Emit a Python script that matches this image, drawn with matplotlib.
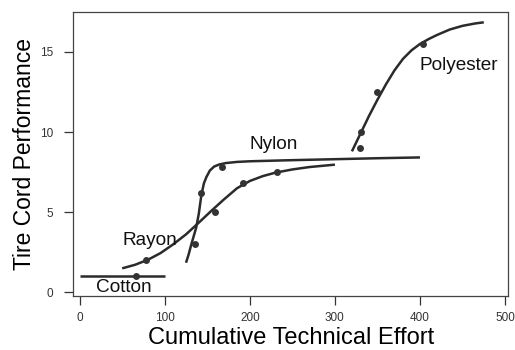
import matplotlib
matplotlib.use("Agg")
import matplotlib.pyplot as plt

plt.rcParams['font.family'] = ['Liberation Sans', 'DejaVu Sans']

# fitted curves
cotton_x = [0, 100]
cotton_y = [1.0, 1.0]
rayon_x = [50, 65, 80, 95, 110, 125, 140, 155, 170, 185, 200, 215, 230, 250, 270, 300]
rayon_y = [1.50, 1.72, 2.03, 2.45, 3.0, 3.62, 4.35, 5.1, 5.82, 6.5, 6.95, 7.25, 7.47, 7.67, 7.82, 7.97]
nylon_x = [125, 128, 131, 134, 137, 140, 143, 146, 149, 153, 158, 164, 172, 185, 200, 250, 300, 350, 400]
nylon_y = [1.85, 2.35, 2.95, 3.5, 4.05, 4.9, 6.05, 6.8, 7.2, 7.6, 7.85, 7.98, 8.07, 8.14, 8.18, 8.25, 8.31, 8.37, 8.42]
poly_x = [320, 330, 340, 350, 360, 370, 380, 390, 400, 410, 420, 435, 450, 465, 475]
poly_y = [8.8, 9.9, 11.0, 12.02, 12.98, 13.85, 14.57, 15.1, 15.5, 15.8, 16.06, 16.4, 16.63, 16.78, 16.85]

# observed points
pts_x = [66, 78, 159, 192, 232, 136, 143, 167, 329, 331, 350, 404]
pts_y = [1.0, 2.0, 5.0, 6.8, 7.5, 3.0, 6.2, 7.85, 9.0, 10.0, 12.5, 15.5]

labels = ["Cotton", "Rayon", "Nylon", "Polyester"]
label_x = [19, 50, 200, 399]
label_y = [0.0, 2.96, 8.96, 13.9]

fig = plt.figure(figsize=(5.15, 3.5), dpi=100)
ax = fig.add_axes([0.1423, 0.155, 0.845, 0.811])

line_col = "#2b2b2b"
for xs, ys in [(cotton_x, cotton_y), (rayon_x, rayon_y), (nylon_x, nylon_y), (poly_x, poly_y)]:
    ax.plot(xs, ys, color=line_col, lw=1.8, solid_capstyle='butt')
ax.plot(pts_x, pts_y, 'o', color="#333333", ms=5, mew=0)

for t, x, y in zip(labels, label_x, label_y):
    ax.text(x, y, t, fontsize=13.7, ha='left', va='baseline', color="#111111")

ax.set_xlim(-7.5, 504)
ax.set_ylim(-0.21, 17.5)
ax.set_xticks([0, 100, 200, 300, 400, 500])
ax.set_yticks([0, 5, 10, 15])
ax.tick_params(axis='both', labelsize=8.5, colors="#333333", labelcolor="#333333",
               length=6.5, width=0.9)
ax.tick_params(axis='y', pad=8)
ax.tick_params(axis='x', pad=5)
for s in ax.spines.values():
    s.set_color("#444444")
    s.set_linewidth(0.9)

ax.set_xlabel("Cumulative Technical Effort", fontsize=17, labelpad=2)
ax.set_ylabel("Tire Cord Performance", fontsize=16.5, labelpad=3)

fig.savefig("out.png", dpi=100)
